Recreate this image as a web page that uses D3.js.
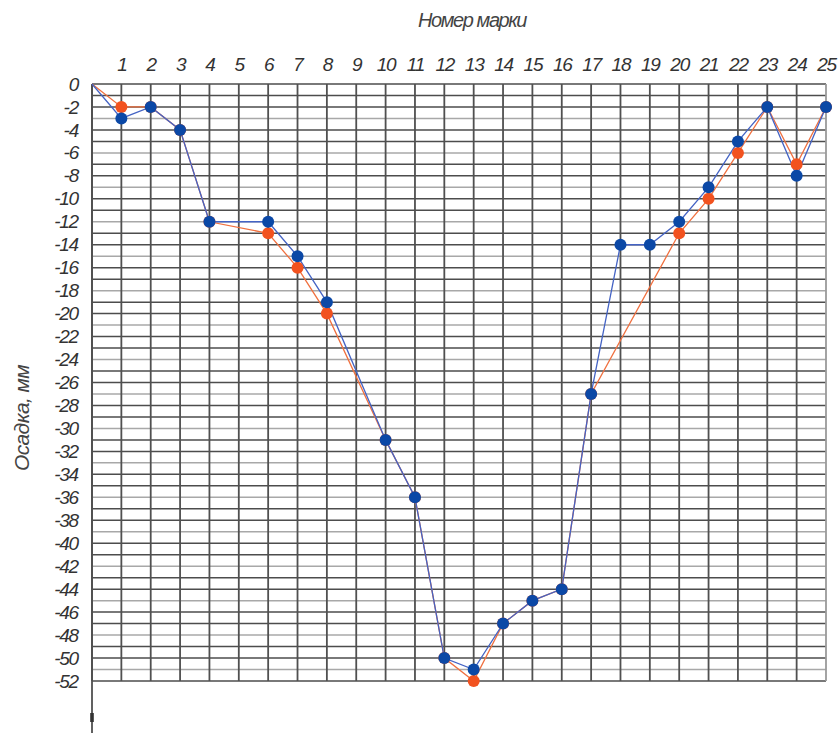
<!DOCTYPE html>
<html>
<head>
<meta charset="utf-8">
<script src="https://cdn.jsdelivr.net/npm/d3@7"></script>
<style>
  body { margin: 0; background: #fff; }
  .tickText { font-family: "Liberation Sans", Arial, sans-serif; font-style: italic; font-size: 19px; fill: #333; letter-spacing: -1.2px; }
  .axisTitle { font-family: "Liberation Sans", Arial, sans-serif; font-style: italic; fill: #444; }
</style>
</head>
<body>
<div class="chart"></div>
<script>
// Mark numbers (0 is the start point at the origin)
var marks = [0, 1, 2, 3, 4, 5, 6, 7, 8, 9, 10, 11, 12, 13, 14, 15, 16, 17, 18, 19, 20, 21, 22, 23, 24, 25];
// Settlement, mm (null = no measurement)
var seriesBlue = [0, -3, -2, -4, -12, null, -12, -15, -19, null, -31, -36, -50, -51, -47, -45, -44, -27, -14, -14, -12, -9, -5, -2, -8, -2];
var seriesOrange = [0, -2, -2, -4, -12, null, -13, -16, -20, null, -31, -36, -50, -52, -47, -45, -44, -27, null, null, -13, -10, -6, -2, -7, -2];
var topTicks = d3.range(1, 26);
var leftTicks = d3.range(0, -53, -2);

var svgWidth = 838;
var svgHeight = 733;

var margin = {
  top: 84,
  right: 12,
  bottom: 52,
  left: 92
};

var width = svgWidth - margin.left - margin.right;
var height = svgHeight - margin.top - margin.bottom;

var svg = d3.select(".chart")
  .append("svg")
  .attr("width", svgWidth)
  .attr("height", svgHeight);

var chartGroup = svg.append("g")
  .attr("transform", `translate(${margin.left}, ${margin.top})`);

// Scales
var xScale = d3.scaleLinear()
  .domain([0, 25])
  .range([0, width]);

var yScale = d3.scaleLinear()
  .domain([0, -52])
  .range([0, height]);

// Horizontal grid, one line per mm
chartGroup.append("g")
  .selectAll("line")
  .data(d3.range(0, -53, -1))
  .enter()
  .append("line")
  .attr("x1", 0)
  .attr("x2", width)
  .attr("y1", d => yScale(d))
  .attr("y2", d => yScale(d))
  .attr("stroke", d => (d % 3 === 0 && d !== 0) ? "#a8a8a8" : "#4d4d4d")
  .attr("stroke-width", 1.5);

// Vertical grid, one line per mark
chartGroup.append("g")
  .selectAll("line")
  .data(marks)
  .enter()
  .append("line")
  .attr("x1", d => xScale(d))
  .attr("x2", d => xScale(d))
  .attr("y1", 0)
  .attr("y2", height)
  .attr("stroke", d => d === 25 ? "#9a9a9a" : "#505050")
  .attr("stroke-width", 1.8);

// Left axis line runs down past the grid
chartGroup.append("line")
  .attr("x1", 0)
  .attr("x2", 0)
  .attr("y1", 0)
  .attr("y2", svgHeight - margin.top)
  .attr("stroke", "#505050")
  .attr("stroke-width", 1.8);

chartGroup.append("rect")
  .attr("x", -1.8)
  .attr("y", height + 32)
  .attr("width", 3.6)
  .attr("height", 9)
  .attr("fill", "#333");

// Axes
var topAxis = d3.axisTop(xScale)
  .tickValues(topTicks)
  .tickSize(0)
  .tickPadding(13);

var leftAxis = d3.axisLeft(yScale)
  .tickValues(leftTicks)
  .tickSize(0)
  .tickPadding(14)
  .tickFormat(d => d === 0 ? "0" : "-" + Math.abs(d));

chartGroup.append("g")
  .call(topAxis)
  .call(g => g.select(".domain").remove())
  .selectAll("text")
  .attr("class", "tickText");

chartGroup.append("g")
  .call(leftAxis)
  .call(g => g.select(".domain").remove())
  .selectAll("text")
  .attr("class", "tickText");

// Lines and markers
var line = d3.line()
  .x(d => xScale(d.mark))
  .y(d => yScale(d.value));

function toPoints(values) {
  return marks.map((m, i) => ({ mark: m, value: values[i] }))
    .filter(d => d.value !== null);
}

var orangePts = toPoints(seriesOrange);
var bluePts = toPoints(seriesBlue);

chartGroup.append("path")
  .datum(orangePts)
  .attr("fill", "none")
  .attr("stroke", "#f0703f")
  .attr("stroke-width", 1.3)
  .attr("d", line);

chartGroup.append("path")
  .datum(bluePts)
  .attr("fill", "none")
  .attr("stroke", "#4463c4")
  .attr("stroke-width", 1.3)
  .attr("d", line);

chartGroup.selectAll(".dotOrange")
  .data(orangePts.filter(d => d.mark > 0))
  .enter()
  .append("circle")
  .attr("class", "dotOrange")
  .attr("cx", d => xScale(d.mark))
  .attr("cy", d => yScale(d.value))
  .attr("r", 6)
  .attr("fill", "#f2521f");

chartGroup.selectAll(".dotBlue")
  .data(bluePts.filter(d => d.mark > 0))
  .enter()
  .append("circle")
  .attr("class", "dotBlue")
  .attr("cx", d => xScale(d.mark))
  .attr("cy", d => yScale(d.value))
  .attr("r", 6)
  .attr("fill", "#0b48a6");

// Axis titles
svg.append("text")
  .attr("class", "axisTitle")
  .attr("x", 472)
  .attr("y", 27)
  .attr("text-anchor", "middle")
  .attr("font-size", 20)
  .attr("letter-spacing", "-1.4px")
  .text("Номер марки");

svg.append("text")
  .attr("class", "axisTitle")
  .attr("transform", "translate(29, 418) rotate(-90)")
  .attr("text-anchor", "middle")
  .attr("font-size", 21)
  .attr("letter-spacing", "-0.6px")
  .text("Осадка, мм");
</script>
</body>
</html>
